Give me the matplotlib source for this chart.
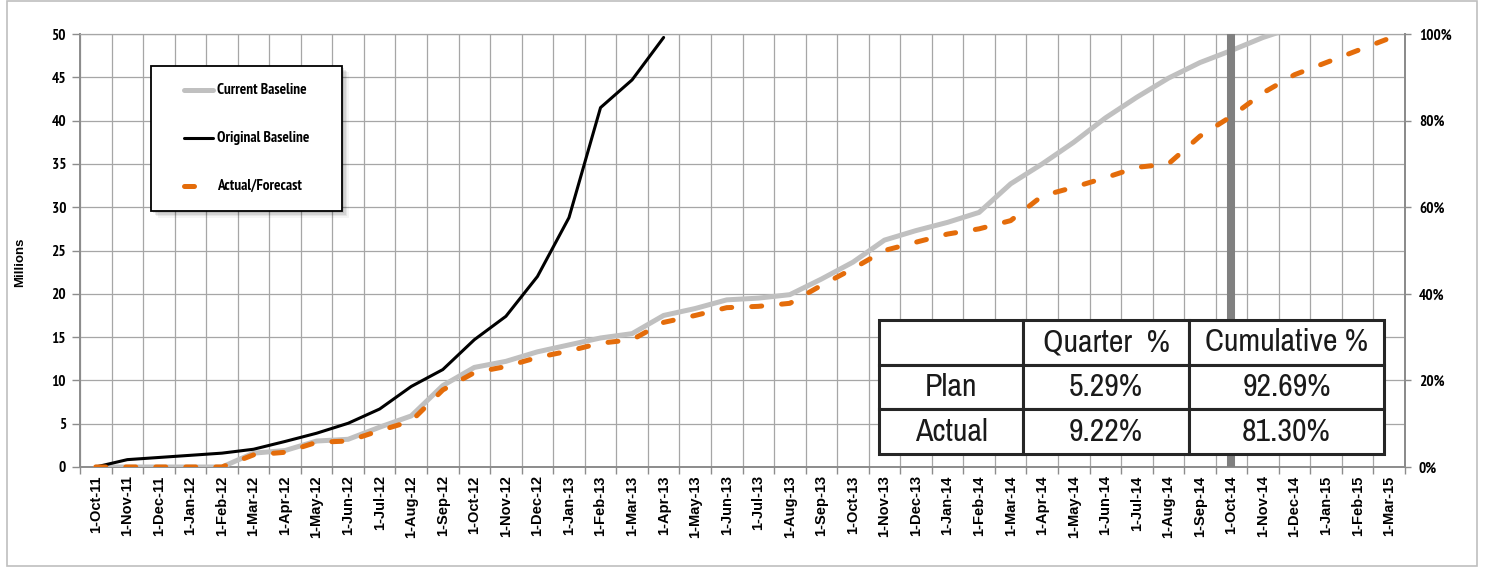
import numpy as np
import matplotlib
matplotlib.use("Agg")
import matplotlib.pyplot as plt
from matplotlib import font_manager
from matplotlib.font_manager import FontProperties
from matplotlib.lines import Line2D
from matplotlib.patches import Rectangle
from matplotlib.ticker import FixedLocator, PercentFormatter

# ---- data (millions, cumulative) ----
months = [
    "1-Oct-11", "1-Nov-11", "1-Dec-11", "1-Jan-12", "1-Feb-12", "1-Mar-12",
    "1-Apr-12", "1-May-12", "1-Jun-12", "1-Jul-12", "1-Aug-12", "1-Sep-12",
    "1-Oct-12", "1-Nov-12", "1-Dec-12", "1-Jan-13", "1-Feb-13", "1-Mar-13",
    "1-Apr-13", "1-May-13", "1-Jun-13", "1-Jul-13", "1-Aug-13", "1-Sep-13",
    "1-Oct-13", "1-Nov-13", "1-Dec-13", "1-Jan-14", "1-Feb-14", "1-Mar-14",
    "1-Apr-14", "1-May-14", "1-Jun-14", "1-Jul-14", "1-Aug-14", "1-Sep-14",
    "1-Oct-14", "1-Nov-14", "1-Dec-14", "1-Jan-15", "1-Feb-15", "1-Mar-15",
]

current_baseline = [
    0, 0, 0, 0, 0, 1.6, 1.9, 3.0, 3.2, 4.6, 5.9, 9.4,
    11.5, 12.2, 13.3, 14.1, 14.9, 15.4, 17.5, 18.3, 19.3, 19.5, 19.9, 21.7,
    23.65, 26.2, 27.3, 28.25, 29.4, 32.7, 35.0, 37.5, 40.3, 42.7, 44.9, 46.7,
    48.1, 49.6, 50.8,
]

original_baseline = [
    0, 0.85, 1.1, 1.35, 1.6, 2.05, 2.95, 3.9, 5.05, 6.7, 9.3, 11.25,
    14.7, 17.4, 22.0, 28.8, 41.5, 44.7, 49.6,
]

actual_forecast = [
    0, 0, 0, 0, 0, 1.4, 1.7, 2.85, 3.0, 4.2, 5.3, 8.9,
    10.9, 11.6, 12.65, 13.4, 14.3, 14.7, 16.7, 17.5, 18.4, 18.55, 18.9, 20.97,
    22.9, 25.0, 25.96, 26.9, 27.5, 28.45, 31.3, 32.3, 33.4, 34.6, 35.0, 38.2,
    40.5, 43.2, 45.3, 46.7, 48.1, 49.5,
]

status_month = "1-Oct-14"

table_header = ["", "Quarter  %", "Cumulative %"]
table_rows = [
    ["Plan", "5.29%", "92.69%"],
    ["Actual", "9.22%", "81.30%"],
]

series_names = ["Current Baseline", "Original Baseline", "Actual/Forecast"]


# ---- fonts: prefer a narrow / condensed sans for the Excel-like look ----
def narrow_font(bold):
    want = "bold" if bold else "normal"
    ranked = []
    for f in font_manager.fontManager.ttflist:
        name = f.name
        path = f.fname.lower()
        is_bold = (f.weight in ("bold", 700, "heavy", 800, 900)
                   or "bold" in path.rsplit("/", 1)[-1])
        if is_bold != bold:
            continue
        if "oblique" in path or "italic" in path:
            continue
        condensed = (f.stretch in ("condensed", "semi-condensed",
                                   "extra-condensed", 375, 500, 625)
                     or "narrow" in path or "condensed" in path)
        if not condensed:
            continue
        if "Liberation Sans Narrow" in name or "liberationsansnarrow" in path:
            rank = 0
        elif "narrow" in path.lower():
            rank = 1
        elif "DejaVu Sans" in name and "mono" not in path:
            rank = 2
        elif "sans" in name.lower():
            rank = 3
        else:
            rank = 4
        ranked.append((rank, f.fname))
    if ranked:
        ranked.sort()
        return FontProperties(fname=ranked[0][1]), True
    return FontProperties(family="Liberation Sans", weight=want), False


NARROW_BOLD, HAVE_NB = narrow_font(True)
NARROW_REG, HAVE_NR = narrow_font(False)
WIDE = "Liberation Sans"


def fp(base, size):
    p = base.copy()
    p.set_size(size)
    return p


# ---- styles ----
styles = {
    "Current Baseline": dict(color="#C0C0C0", lw=3.6, solid_capstyle="round"),
    "Original Baseline": dict(color="black", lw=2.2, solid_capstyle="round"),
    "Actual/Forecast": dict(color="#E46C0A", lw=3.6, linestyle=(0, (2.0, 4.0)),
                            dash_capstyle="round"),
}

W, H = 1486, 567
fig = plt.figure(figsize=(W / 100, H / 100), dpi=100)
fig.patch.set_facecolor("white")


def fx(x):
    return x / W


def fy(y):
    return 1 - y / H


ax_left, ax_right, ax_top, ax_bottom = 80, 1405, 34, 467
ax = fig.add_axes([fx(ax_left), fy(ax_bottom), fx(ax_right) - fx(ax_left),
                   fy(ax_top) - fy(ax_bottom)])

n = len(months)
x_all = np.arange(n)

ax.plot(np.arange(len(current_baseline)), current_baseline, zorder=3,
        **styles["Current Baseline"])
ax.axvline(months.index(status_month), color="#808080", lw=5.8, zorder=3.5)
ax.plot(np.arange(len(original_baseline)), original_baseline, zorder=4,
        **styles["Original Baseline"])
ax.plot(np.arange(len(actual_forecast)), actual_forecast, zorder=5,
        **styles["Actual/Forecast"])

ax.set_xlim(-0.5, n - 0.5)
ax.set_ylim(0, 50)

grid_c = "#A6A6A6"
spine_c = "#8C8C8C"

# category ticks at centres, grid and tick marks on category boundaries
ax.set_xticks(x_all)
ax.set_xticklabels(months, rotation=90, fontfamily=WIDE, fontweight="bold",
                   fontsize=10.5)
ax.xaxis.set_minor_locator(FixedLocator(np.arange(-0.5, n, 1.0)))
ax.tick_params(axis="x", which="major", length=0, pad=6)
ax.tick_params(axis="x", which="minor", length=5, color=spine_c, width=1)
ax.grid(True, which="minor", axis="x", color=grid_c, lw=0.9, zorder=0)

tick_size = 11 if HAVE_NB else 10
ax.set_yticks(np.arange(0, 51, 5))
for lab in ax.get_yticklabels():
    lab.set_fontproperties(fp(NARROW_BOLD, tick_size))
ax.tick_params(axis="y", length=6, color=spine_c, width=1, pad=4)
ax.grid(True, which="major", axis="y", color=grid_c, lw=0.9, zorder=0)
ax.set_axisbelow(True)

for side in ["left", "bottom", "right", "top"]:
    ax.spines[side].set_color(spine_c)
    ax.spines[side].set_linewidth(1.4)
ax.spines["top"].set_color(grid_c)
ax.spines["top"].set_linewidth(0.9)

# secondary percentage axis
ax2 = ax.twinx()
ax2.set_ylim(0, 1)
ax2.set_yticks(np.arange(0, 1.01, 0.2))
ax2.yaxis.set_major_formatter(PercentFormatter(1.0, decimals=0))
for lab in ax2.get_yticklabels():
    lab.set_fontproperties(fp(NARROW_BOLD, tick_size))
ax2.tick_params(axis="y", length=4, color=spine_c, width=1, pad=6)
for side in ["left", "bottom", "right", "top"]:
    ax2.spines[side].set_visible(False)
ax2.spines["right"].set_visible(True)
ax2.spines["right"].set_color(spine_c)
ax2.spines["right"].set_linewidth(1.4)

fig.text(fx(20), fy(262), "Millions", rotation=90, ha="center", va="center",
         fontfamily=WIDE, fontweight="bold", fontsize=9.5)

# ---- legend box ----
lx0, ly0, lx1, ly1 = 151, 66, 342, 211
for i, a in enumerate([0.10, 0.08, 0.06, 0.04]):
    off = 2 + i * 1.5
    fig.add_artist(Rectangle((fx(lx0 + off), fy(ly1 + off)),
                             fx(lx1) - fx(lx0), fy(ly0) - fy(ly1),
                             transform=fig.transFigure, facecolor="black",
                             edgecolor="none", alpha=a, zorder=8))
fig.add_artist(Rectangle((fx(lx0), fy(ly1)), fx(lx1) - fx(lx0),
                         fy(ly0) - fy(ly1), transform=fig.transFigure,
                         facecolor="white", edgecolor="black", lw=1.3,
                         zorder=9))
legend_size = 11 if HAVE_NB else 9.5
for i, name in enumerate(series_names):
    yy = 90 + 48 * i
    fig.add_artist(Line2D([fx(184), fx(213)], [fy(yy), fy(yy)],
                          transform=fig.transFigure, zorder=10,
                          **styles[name]))
    fig.text(fx(217), fy(yy), name, ha="left", va="center", zorder=10,
             fontproperties=fp(NARROW_BOLD, legend_size))

# ---- summary table ----
tx0, ty0, tx1, ty1 = 879, 320, 1384, 454
aw = ax_right - ax_left
ah = ax_bottom - ax_top
bbox = [(tx0 - ax_left) / aw, (ax_bottom - ty1) / ah,
        (tx1 - tx0) / aw, (ty1 - ty0) / ah]
cells = [table_header] + table_rows
tbl = ax.table(cellText=cells, cellLoc="center", bbox=bbox,
               colWidths=[144, 166, 195])
tbl.auto_set_font_size(False)
tbl.set_zorder(10)
table_size = 23 if HAVE_NR else 19
for (r, c), cell in tbl.get_celld().items():
    cell.set_facecolor("white")
    cell.set_edgecolor("#262626")
    cell.set_linewidth(2.2)
    cell.get_text().set_fontproperties(fp(NARROW_REG, table_size))
    cell.get_text().set_color("#1a1a1a")

# ---- outer frame ----
fig.add_artist(Rectangle((fx(7), fy(566)), fx(1477) - fx(7), fy(1) - fy(566),
                         transform=fig.transFigure, facecolor="none",
                         edgecolor="#BFBFBF", lw=1.2, zorder=0))

fig.savefig("out.png", dpi=100, facecolor="white")
